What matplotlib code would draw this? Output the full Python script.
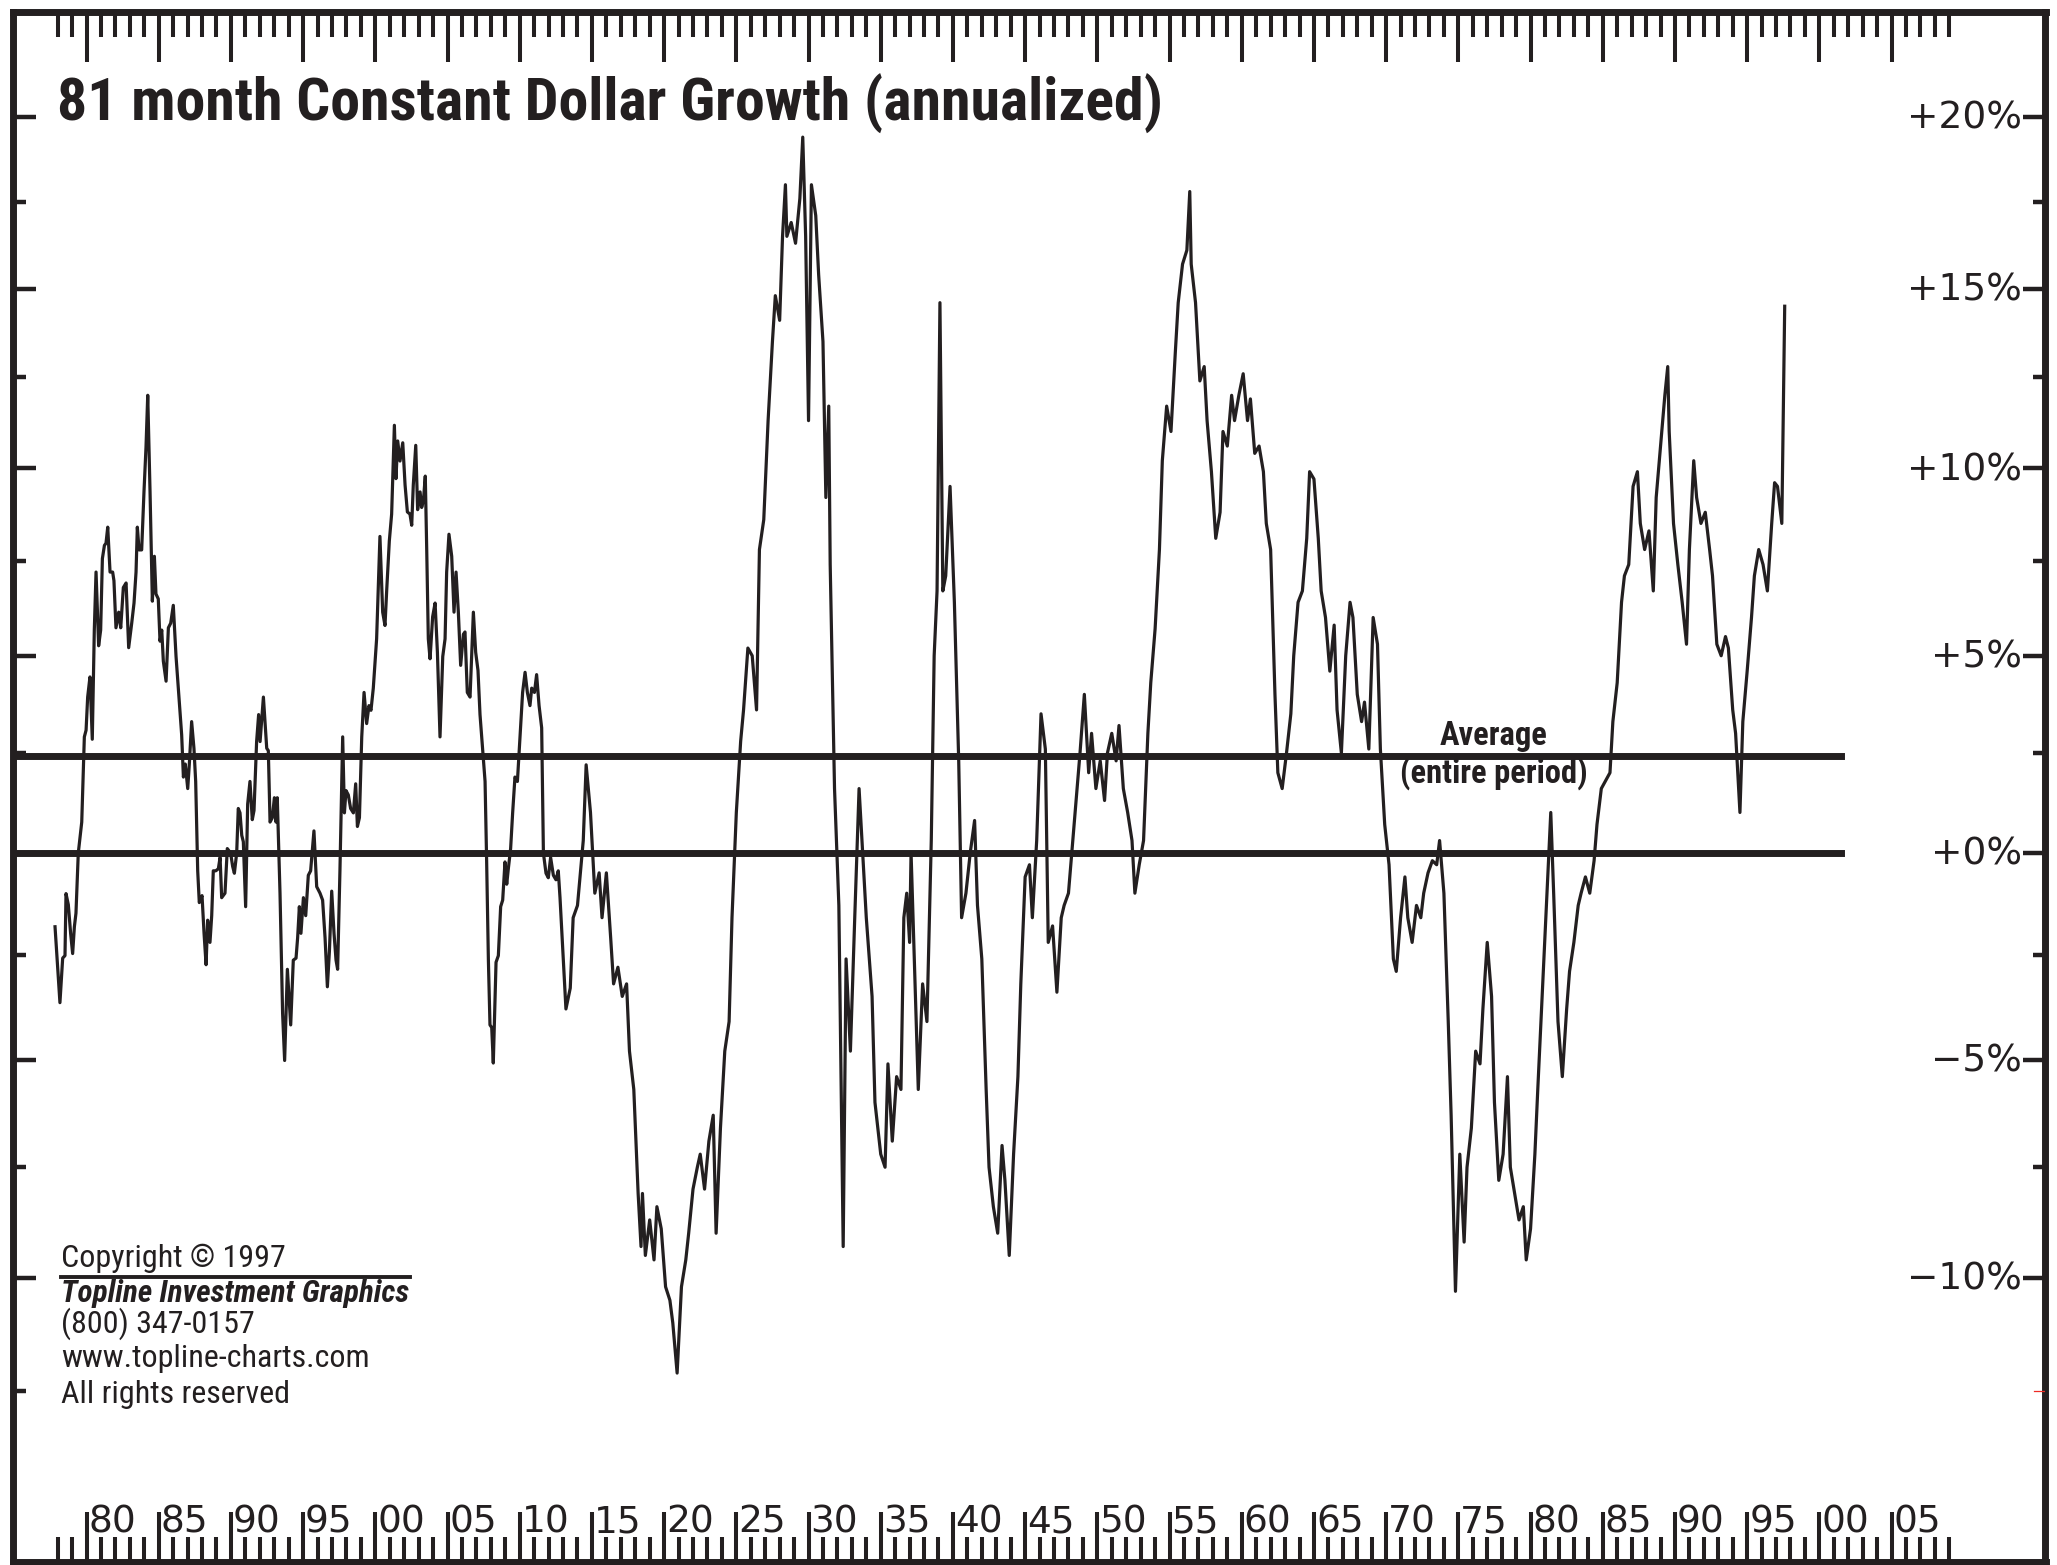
import numpy as np
import matplotlib
matplotlib.use('Agg')
import matplotlib.pyplot as plt
import matplotlib.transforms as mtransforms
from matplotlib import font_manager
from matplotlib.lines import Line2D

INK = '#231f20'

# 81-month annualized constant dollar growth, (year, percent)
growth_1877_1895 = [
    (1877.82, -1.82), (1878.16, -3.65), (1878.35, -2.58), (1878.51, -2.52), (1878.58, -1.01),
    (1878.74, -1.28), (1878.90, -1.98), (1879.04, -2.47), (1879.16, -1.82), (1879.27, -1.49),
    (1879.43, -0.01), (1879.67, 0.76), (1879.85, 2.91), (1879.97, 3.08), (1880.08, 3.93),
    (1880.24, 4.45), (1880.40, 2.85), (1880.54, 5.67), (1880.66, 7.20), (1880.84, 5.26),
    (1880.98, 5.67), (1881.10, 7.56), (1881.24, 7.91), (1881.35, 7.97), (1881.47, 8.40),
    (1881.63, 7.20), (1881.81, 7.20), (1881.90, 6.97), (1882.04, 5.73), (1882.23, 6.14),
    (1882.37, 5.73), (1882.55, 6.79), (1882.74, 6.91), (1882.92, 5.21), (1883.13, 5.85),
    (1883.29, 6.38), (1883.43, 7.20), (1883.52, 8.40), (1883.64, 7.79), (1883.82, 7.79),
    (1883.98, 9.35), (1884.12, 10.57), (1884.24, 12.00), (1884.40, 9.35), (1884.56, 6.43),
    (1884.70, 7.62), (1884.81, 6.62), (1884.97, 6.49), (1885.09, 5.38), (1885.21, 5.67),
    (1885.32, 4.86), (1885.51, 4.34), (1885.67, 5.73), (1885.83, 5.85), (1886.01, 6.32),
    (1886.20, 4.98), (1886.41, 3.88), (1886.59, 2.96), (1886.71, 1.89), (1886.84, 2.22),
    (1887.01, 1.60), (1887.12, 2.22), (1887.28, 3.30), (1887.44, 2.62), (1887.56, 1.78),
    (1887.70, -0.45), (1887.81, -1.23), (1888.00, -1.06), (1888.14, -1.98), (1888.28, -2.74),
    (1888.39, -1.66), (1888.55, -2.20), (1888.67, -1.55), (1888.78, -0.45), (1888.95, -0.45),
    (1889.13, -0.40), (1889.25, -0.12), (1889.36, -1.11), (1889.59, -1.00), (1889.75, 0.10),
    (1889.98, -0.01), (1890.12, -0.34), (1890.24, -0.51), (1890.40, -0.01), (1890.51, 1.10),
    (1890.63, 0.99), (1890.75, 0.43), (1890.86, 0.27), (1891.02, -1.33), (1891.16, 1.21),
    (1891.32, 1.78), (1891.48, 0.82), (1891.60, 1.05), (1891.78, 2.79), (1891.92, 3.48),
    (1892.02, 2.79), (1892.25, 3.93), (1892.48, 2.62), (1892.59, 2.56), (1892.71, 0.76),
    (1892.87, 0.87), (1893.01, 1.37), (1893.12, 0.76), (1893.21, 1.37), (1893.40, -1.00),
    (1893.58, -3.91), (1893.72, -5.02), (1893.91, -2.85), (1894.14, -4.18), (1894.32, -2.63),
    (1894.51, -2.58), (1894.62, -2.09), (1894.74, -1.33), (1894.85, -1.98),
]
growth_1895_1913 = [
    (1895.02, -1.11), (1895.18, -1.55), (1895.36, -0.56), (1895.52, -0.45), (1895.75, 0.54),
    (1895.94, -0.84), (1896.17, -1.00), (1896.35, -1.17), (1896.52, -2.09), (1896.68, -3.27),
    (1896.82, -2.42), (1896.98, -0.95), (1897.14, -1.98), (1897.28, -2.63), (1897.39, -2.85),
    (1897.55, -0.45), (1897.74, 2.91), (1897.86, 0.99), (1897.97, 1.55), (1898.13, 1.44),
    (1898.29, 1.10), (1898.48, 0.99), (1898.64, 1.72), (1898.76, 0.65), (1898.90, 0.87),
    (1899.06, 2.91), (1899.22, 4.05), (1899.40, 3.25), (1899.56, 3.71), (1899.70, 3.59),
    (1899.86, 4.16), (1900.09, 5.44), (1900.32, 8.15), (1900.51, 6.14), (1900.67, 5.79),
    (1900.79, 6.73), (1900.97, 8.03), (1901.13, 8.75), (1901.32, 11.17), (1901.43, 9.71),
    (1901.55, 10.74), (1901.71, 10.19), (1901.90, 10.69), (1902.06, 9.54), (1902.22, 8.81),
    (1902.40, 8.75), (1902.52, 8.45), (1902.63, 9.54), (1902.80, 10.62), (1902.93, 8.87),
    (1903.10, 9.35), (1903.21, 8.93), (1903.33, 9.11), (1903.46, 9.78), (1903.56, 7.79),
    (1903.67, 5.44), (1903.79, 4.92), (1903.97, 6.02), (1904.14, 6.38), (1904.30, 5.09),
    (1904.48, 2.91), (1904.67, 4.98), (1904.83, 5.44), (1904.94, 7.20), (1905.10, 8.21),
    (1905.29, 7.62), (1905.45, 6.14), (1905.59, 7.20), (1905.75, 6.14), (1905.91, 4.75),
    (1906.10, 5.56), (1906.21, 5.62), (1906.37, 4.05), (1906.56, 3.93), (1906.79, 6.14),
    (1906.95, 5.09), (1907.11, 4.62), (1907.25, 3.48), (1907.44, 2.56), (1907.60, 1.78),
    (1907.71, -0.23), (1907.83, -2.63), (1907.94, -4.18), (1908.06, -4.24), (1908.17, -5.08),
    (1908.36, -2.68), (1908.52, -2.52), (1908.68, -1.33), (1908.82, -1.17), (1908.98, -0.23),
    (1909.10, -0.78), (1909.21, -0.40), (1909.37, 0.10), (1909.51, 0.99), (1909.67, 1.89),
    (1909.84, 1.78), (1910.02, 2.91), (1910.20, 4.05), (1910.37, 4.57), (1910.53, 4.05),
    (1910.71, 3.71), (1910.83, 4.16), (1911.02, 4.05), (1911.17, 4.51), (1911.34, 3.71),
    (1911.52, 3.14), (1911.64, -0.01), (1911.82, -0.51), (1911.98, -0.62), (1912.14, -0.12),
    (1912.33, -0.56), (1912.51, -0.67), (1912.67, -0.45), (1912.79, -1.11),
]
growth_1913_1941 = [
    (1913.2, -3.8), (1913.5, -3.3), (1913.7, -1.6), (1914.0, -1.3), (1914.4, 0.3),
    (1914.6, 2.2), (1914.9, 1.0), (1915.2, -1.0), (1915.5, -0.5), (1915.7, -1.6),
    (1916.0, -0.5), (1916.3, -2.1), (1916.5, -3.2), (1916.8, -2.8), (1917.1, -3.5),
    (1917.4, -3.2), (1917.6, -4.8), (1917.9, -5.7), (1918.2, -8.1), (1918.4, -9.3),
    (1918.5, -8.1), (1918.7, -9.5), (1919.0, -8.7), (1919.3, -9.6), (1919.5, -8.4),
    (1919.8, -8.9), (1920.1, -10.2), (1920.4, -10.5), (1920.6, -11.0), (1920.9, -12.1),
    (1921.2, -10.2), (1921.5, -9.6), (1921.7, -9.0), (1922.0, -8.0), (1922.3, -7.5),
    (1922.5, -7.2), (1922.8, -8.0), (1923.1, -6.9), (1923.4, -6.3), (1923.6, -9.0),
    (1923.9, -6.6), (1924.2, -4.8), (1924.5, -4.1), (1924.7, -1.6), (1925.0, 1.0),
    (1925.3, 2.8), (1925.5, 3.6), (1925.8, 5.2), (1926.1, 5.0), (1926.4, 3.6),
    (1926.6, 7.8), (1926.9, 8.6), (1927.2, 11.3), (1927.5, 13.5), (1927.7, 14.8),
    (1928.0, 14.1), (1928.2, 16.5), (1928.4, 18.0), (1928.5, 16.5), (1928.8, 16.9),
    (1929.1, 16.3), (1929.4, 17.6), (1929.6, 19.4), (1929.8, 16.5), (1930.0, 11.3),
    (1930.2, 18.0), (1930.5, 17.1), (1930.7, 15.4), (1931.0, 13.5), (1931.2, 9.2),
    (1931.4, 11.7), (1931.5, 7.4), (1931.8, 1.6), (1932.1, -1.3), (1932.4, -9.3),
    (1932.6, -2.6), (1932.9, -4.8), (1933.2, -1.6), (1933.5, 1.6), (1933.7, 0.3),
    (1934.0, -1.6), (1934.4, -3.5), (1934.6, -6.0), (1935.0, -7.2), (1935.3, -7.5),
    (1935.5, -5.1), (1935.8, -6.9), (1936.1, -5.4), (1936.4, -5.7), (1936.6, -1.6),
    (1936.8, -1.0), (1937.0, -2.2), (1937.1, 0.0), (1937.4, -3.5), (1937.6, -5.7),
    (1937.9, -3.2), (1938.2, -4.1), (1938.5, 0.3), (1938.7, 5.0), (1938.9, 6.7),
    (1939.1, 14.6), (1939.3, 6.7), (1939.5, 7.1), (1939.8, 9.5), (1940.1, 6.4),
    (1940.4, 2.3), (1940.6, -1.6), (1940.9, -1.0),
]
growth_1941_1970 = [
    (1941.2, 0.0), (1941.5, 0.8), (1941.7, -1.3), (1942.0, -2.6), (1942.3, -5.7),
    (1942.5, -7.5), (1942.8, -8.4), (1943.1, -9.0), (1943.4, -7.0), (1943.6, -7.8),
    (1943.9, -9.5), (1944.2, -7.2), (1944.5, -5.4), (1944.7, -3.2), (1945.0, -0.6),
    (1945.3, -0.3), (1945.5, -1.6), (1945.8, 0.3), (1946.1, 3.5), (1946.4, 2.6),
    (1946.6, -2.2), (1946.9, -1.8), (1947.2, -3.4), (1947.5, -1.6), (1947.7, -1.3),
    (1948.0, -1.0), (1948.3, 0.3), (1948.6, 1.6), (1948.8, 2.5), (1949.1, 4.0),
    (1949.4, 2.0), (1949.6, 3.0), (1949.9, 1.6), (1950.2, 2.3), (1950.5, 1.3),
    (1950.7, 2.5), (1951.0, 3.0), (1951.3, 2.3), (1951.5, 3.2), (1951.8, 1.6),
    (1952.1, 1.0), (1952.4, 0.3), (1952.6, -1.0), (1952.9, -0.3), (1953.2, 0.3),
    (1953.5, 3.0), (1953.7, 4.3), (1954.0, 5.7), (1954.3, 7.8), (1954.5, 10.2),
    (1954.8, 11.7), (1955.1, 11.0), (1955.4, 13.2), (1955.6, 14.6), (1955.9, 15.7),
    (1956.2, 16.1), (1956.4, 17.8), (1956.5, 15.7), (1956.8, 14.6), (1957.1, 12.4),
    (1957.4, 12.8), (1957.6, 11.3), (1957.9, 9.9), (1958.2, 8.1), (1958.5, 8.8),
    (1958.7, 11.0), (1959.0, 10.6), (1959.3, 12.0), (1959.5, 11.3), (1959.8, 12.0),
    (1960.1, 12.6), (1960.4, 11.3), (1960.6, 11.9), (1960.9, 10.4), (1961.2, 10.6),
    (1961.5, 9.9), (1961.7, 8.5), (1962.0, 7.8), (1962.3, 4.0), (1962.5, 2.0),
    (1962.8, 1.6), (1963.1, 2.5), (1963.4, 3.5), (1963.6, 5.0), (1963.9, 6.4),
    (1964.2, 6.7), (1964.5, 8.1), (1964.7, 9.9), (1965.0, 9.7), (1965.3, 8.1),
    (1965.5, 6.7), (1965.8, 6.0), (1966.1, 4.6), (1966.4, 5.8), (1966.6, 3.6),
    (1966.9, 2.5), (1967.2, 5.0), (1967.5, 6.4), (1967.7, 6.0), (1968.0, 4.0),
    (1968.3, 3.3), (1968.5, 3.8), (1968.8, 2.6), (1969.1, 6.0), (1969.4, 5.3),
    (1969.6, 2.6), (1969.9, 0.7),
]
growth_1970_1997 = [
    (1970.2, -0.3), (1970.5, -2.6), (1970.7, -2.9), (1971.0, -1.6), (1971.3, -0.6),
    (1971.5, -1.6), (1971.8, -2.2), (1972.1, -1.3), (1972.4, -1.6), (1972.6, -1.0),
    (1972.9, -0.5), (1973.2, -0.2), (1973.5, -0.3), (1973.7, 0.3), (1974.0, -1.0),
    (1974.3, -4.1), (1974.5, -6.3), (1974.8, -10.3), (1975.1, -7.2), (1975.4, -9.2),
    (1975.6, -7.5), (1975.9, -6.6), (1976.2, -4.8), (1976.5, -5.1), (1976.7, -3.8),
    (1977.0, -2.2), (1977.3, -3.5), (1977.5, -6.0), (1977.8, -7.8), (1978.1, -7.2),
    (1978.4, -5.4), (1978.6, -7.5), (1978.9, -8.1), (1979.2, -8.7), (1979.5, -8.4),
    (1979.7, -9.6), (1980.0, -8.9), (1980.3, -7.2), (1980.5, -5.7), (1980.8, -3.5),
    (1981.1, -1.3), (1981.4, 1.0), (1981.6, -1.0), (1981.9, -4.1), (1982.2, -5.4),
    (1982.5, -3.8), (1982.7, -2.9), (1983.0, -2.2), (1983.3, -1.3), (1983.5, -1.0),
    (1983.8, -0.6), (1984.1, -1.0), (1984.4, -0.2), (1984.6, 0.7), (1984.9, 1.6),
    (1985.2, 1.8), (1985.5, 2.0), (1985.7, 3.3), (1986.0, 4.3), (1986.3, 6.4),
    (1986.5, 7.1), (1986.8, 7.4), (1987.1, 9.5), (1987.4, 9.9), (1987.6, 8.5),
    (1987.9, 7.8), (1988.2, 8.3), (1988.5, 6.7), (1988.7, 9.2), (1989.0, 10.6),
    (1989.3, 12.0), (1989.5, 12.8), (1989.6, 11.0), (1989.9, 8.5), (1990.2, 7.4),
    (1990.5, 6.4), (1990.8, 5.3), (1991.0, 7.8), (1991.3, 10.2), (1991.5, 9.2),
    (1991.8, 8.5), (1992.1, 8.8), (1992.4, 7.8), (1992.6, 7.1), (1992.9, 5.3),
    (1993.2, 5.0), (1993.5, 5.5), (1993.7, 5.2), (1994.0, 3.6), (1994.2, 3.0),
    (1994.5, 1.0), (1994.7, 3.3), (1995.0, 4.6), (1995.3, 6.0), (1995.5, 7.1),
    (1995.8, 7.8), (1996.1, 7.4), (1996.4, 6.7), (1996.7, 8.5), (1996.9, 9.6),
    (1997.1, 9.5), (1997.4, 8.5), (1997.6, 14.5),
]

average_pct = 2.43
pct_major = [-10, -5, 0, 5, 10, 15, 20]
pct_minor = [-12.5, -7.5, -2.5, 2.5, 7.5, 12.5, 17.5]
pct_labels = ['\u221210%', '\u22125%', '+0%', '+5%', '+10%', '+15%', '+20%']
year_minor = list(range(1878, 2010))
year_major = list(range(1880, 2010, 5))
year_labels = ['80', '85', '90', '95', '00', '05', '10', '15', '20', '25', '30', '35', '40',
               '45', '50', '55', '60', '65', '70', '75', '80', '85', '90', '95', '00', '05']


def pick_font(*names):
    available = {f.name for f in font_manager.fontManager.ttflist}
    for n in names:
        if n in available:
            return n
    return 'DejaVu Sans'


NARROW = pick_font('Liberation Sans Narrow', 'Roboto Condensed', 'DejaVu Sans')
GEOM = 'DejaVu Sans'


def fwd(p):
    return np.log10(1 + np.asarray(p, dtype=float) / 100.0)


def inv(u):
    return (10 ** np.asarray(u, dtype=float) - 1) * 100.0


series = growth_1877_1895 + growth_1895_1913 + growth_1913_1941 + growth_1941_1970 + growth_1970_1997
years = np.array([s[0] for s in series])
growth = np.array([s[1] for s in series])

fig = plt.figure(figsize=(20.57, 15.65), dpi=100)
ax = fig.add_axes([12.5 / 2057, 1 - 1561.5 / 1565, 2033 / 2057, 1549.5 / 1565])
ax.set_yscale('function', functions=(fwd, inv))
ax.set_xlim(1874.875, 2015.66)
ax.set_ylim(-16.11, 23.16)

# the growth line and the reference levels
ax.plot(years, growth, color=INK, lw=2.3, zorder=3)
ax.axhline(average_pct, xmin=0, xmax=0.8996, color=INK, lw=5.0, zorder=2)
ax.axhline(0, xmin=0, xmax=0.8996, color=INK, lw=5.0, zorder=2)

for s in ax.spines.values():
    s.set_color(INK)
    s.set_linewidth(5.0)

# ruler ticks on top and bottom
ax.set_xticks(year_major)
ax.set_xticks(year_minor, minor=True)
ax.tick_params(axis='x', which='major', direction='in', top=True, bottom=True,
               length=36, width=2.9, color=INK, labelbottom=False, labeltop=False)
ax.tick_params(axis='x', which='minor', direction='in', top=True, bottom=True,
               length=18, width=2.9, color=INK)

# left ticks
ax.set_yticks(pct_major)
ax.set_yticks(pct_minor, minor=True)
ax.tick_params(axis='y', which='major', direction='in', left=True, right=False,
               length=16.5, width=3.2, color=INK, labelleft=False)
ax.tick_params(axis='y', which='minor', direction='in', left=True, right=False,
               length=9, width=3.2, color=INK)

# right ticks (twin so the bottom minor can differ)
axr = ax.twinx()
axr.set_yscale('function', functions=(fwd, inv))
axr.set_ylim(ax.get_ylim())
axr.set_yticks(pct_major)
axr.set_yticks([p for p in pct_minor if p > -12], minor=True)
axr.tick_params(axis='y', which='major', direction='in', length=16, width=3.2,
                color=INK, labelright=False)
axr.tick_params(axis='y', which='minor', direction='in', length=8.6, width=3.2, color=INK)
for s in axr.spines.values():
    s.set_visible(False)
axr.axhline(pct_minor[0], xmin=0.9945, xmax=1, color='#ee2a24', lw=0.9)

# right-hand percent labels
trans_r = mtransforms.blended_transform_factory(ax.transAxes, ax.transData)
trans_r = mtransforms.offset_copy(trans_r, fig=fig, x=0, y=-12, units='dots')
for p, lab in zip(pct_major, pct_labels):
    ax.text(0.9886, p, lab, transform=trans_r, ha='right', va='baseline',
            fontsize=27, family=GEOM, color=INK)

# year labels beside the long bottom ticks
trans_b = mtransforms.blended_transform_factory(ax.transData, ax.transAxes)
trans_b = mtransforms.offset_copy(trans_b, fig=fig, x=2, y=0, units='dots')
for yr, lab in zip(year_major, year_labels):
    ax.text(yr, 0.0184, lab, transform=trans_b, ha='left', va='baseline',
            fontsize=27, family=GEOM, color=INK)

# title
fig.text(57 / 2057, 1 - 121 / 1565, '81 month Constant Dollar Growth (annualized)',
         fontsize=43, fontweight=900, family=NARROW, color=INK, va='baseline', ha='left')

# average label
fig.text(1494 / 2057, 1 - 745 / 1565, 'Average', fontsize=23.5, fontweight=900,
         family=NARROW, color=INK, ha='center', va='baseline')
fig.text(1494 / 2057, 1 - 783 / 1565, '(entire period)', fontsize=23.5, fontweight=900,
         family=NARROW, color=INK, ha='center', va='baseline')

# copyright block
cx = 61 / 2057
fs = 23
fig.text(cx, 1 - 1267 / 1565, 'Copyright \u00a9 1997', fontsize=fs, family=NARROW,
         color=INK, va='baseline')
fig.add_artist(Line2D([cx, 410 / 2057], [1 - 1277 / 1565] * 2, color=INK, lw=2.8))
fig.text(cx, 1 - 1302 / 1565, 'Topline Investment Graphics', fontsize=22.5,
         fontweight='bold', style='italic', family=NARROW, color=INK, va='baseline')
fig.text(cx, 1 - 1333 / 1565, '(800) 347-0157', fontsize=fs, family=NARROW,
         color=INK, va='baseline')
fig.text(cx, 1 - 1367 / 1565, 'www.topline-charts.com', fontsize=fs, family=NARROW,
         color=INK, va='baseline')
fig.text(cx, 1 - 1403 / 1565, 'All rights reserved', fontsize=fs, family=NARROW,
         color=INK, va='baseline')

fig.savefig('out.png', dpi=100, facecolor='white')
